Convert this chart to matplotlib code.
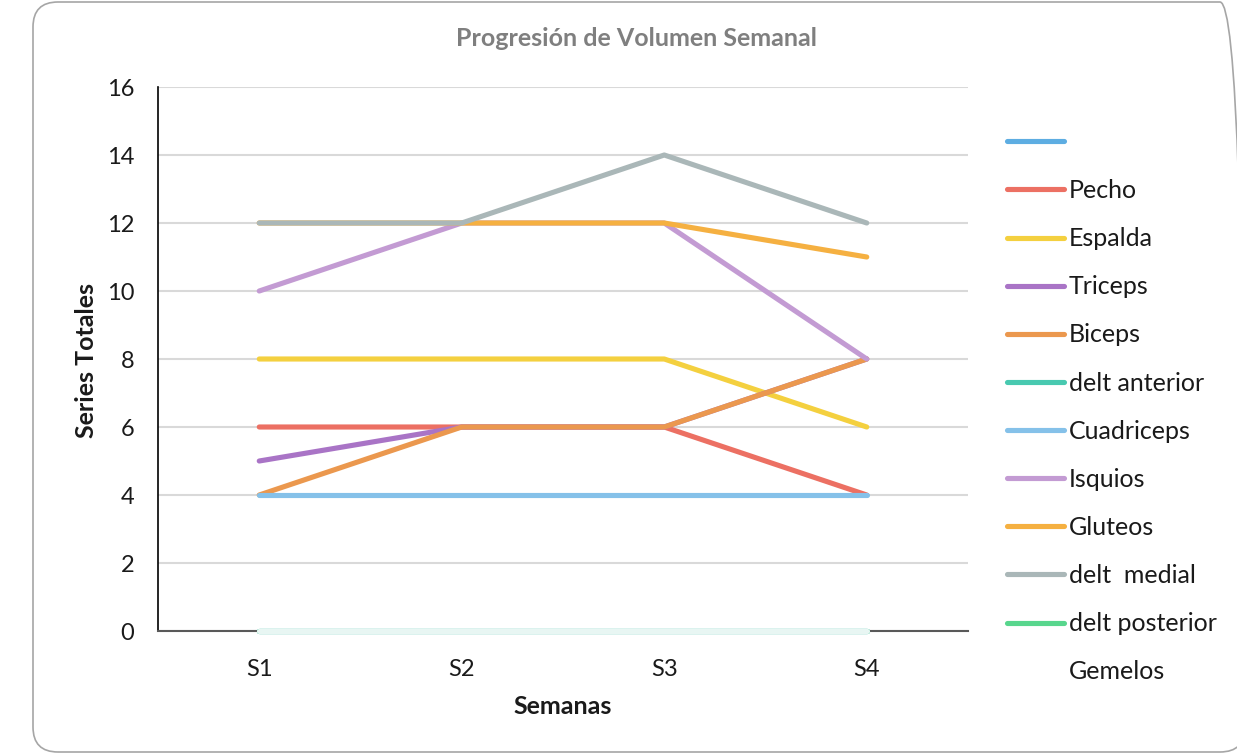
import matplotlib.pyplot as plt
from matplotlib.lines import Line2D
from matplotlib.patches import FancyBboxPatch
from matplotlib.transforms import IdentityTransform

plt.rcParams['font.family'] = ['Lato', 'DejaVu Sans']

# Weekly volume data
weeks = ['S1', 'S2', 'S3', 'S4']
series_names = ['', 'Pecho', 'Espalda', 'Triceps', 'Biceps', 'delt anterior',
                'Cuadriceps', 'Isquios', 'Gluteos', 'delt  medial',
                'delt posterior', 'Gemelos']
unnamed = [0, 0, 0, 0]
pecho = [6, 6, 6, 4]
espalda = [8, 8, 8, 6]
triceps = [5, 6, 6, 8]
biceps = [4, 6, 6, 8]
delt_anterior = [0, 0, 0, 0]
cuadriceps = [4, 4, 4, 4]
isquios = [10, 12, 12, 8]
gluteos = [12, 12, 12, 11]
delt_medial = [12, 12, 14, 12]
delt_posterior = [0, 0, 0, 0]
gemelos = [0, 0, 0, 0]
all_values = [unnamed, pecho, espalda, triceps, biceps, delt_anterior,
              cuadriceps, isquios, gluteos, delt_medial, delt_posterior, gemelos]
colors = ['#5DADE2', '#EC7063', '#F4D03F', '#A974C6', '#EB984E', '#48C9B0',
          '#85C1E9', '#C39BD3', '#F5B041', '#AAB7B8', '#58D68D', '#E8F6F3']

fig = plt.figure(figsize=(12.37, 7.53), dpi=100)

# rounded frame around the chart (pixel units)
frame = FancyBboxPatch((33, 1), 1212, 750,
                       boxstyle='round,pad=0,rounding_size=25',
                       transform=IdentityTransform(), facecolor='none',
                       edgecolor='#a6a6a6', linewidth=1.2, zorder=-1)
fig.patches.append(frame)

ax = fig.add_axes([158 / 1237, 1 - 631 / 753, 810 / 1237, 544 / 753])
ax.set_facecolor('none')

x = range(len(weeks))
lines = []
for i, (name, vals, c) in enumerate(zip(series_names, all_values, colors)):
    ln, = ax.plot(x, vals, color=c, linewidth=3.7, solid_capstyle='round',
                  solid_joinstyle='round', clip_on=False, zorder=3 + i)
    lines.append(ln)

ax.set_xlim(-0.5, 3.5)
ax.set_ylim(0, 16)
ax.set_yticks(range(0, 17, 2))
ax.set_xticks(list(x))
ax.set_xticklabels(weeks)
ax.tick_params(length=0, labelsize=17, colors='#1a1a1a')
ax.tick_params(axis='y', pad=17)
ax.tick_params(axis='x', pad=20)
ax.grid(axis='y', color='#d9d9d9', linewidth=1.5)
ax.set_axisbelow(True)
for s in ['top', 'right']:
    ax.spines[s].set_visible(False)
ax.spines['left'].set_color('#000000')
ax.spines['left'].set_linewidth(1.2)
ax.spines['bottom'].set_color('#595959')
ax.spines['bottom'].set_linewidth(1.5)

fig.text(637 / 1237, 1 - 38 / 753, 'Progresión de Volumen Semanal',
         ha='center', va='center', fontsize=18, fontweight='bold', color='#7f7f7f')
fig.text(87 / 1237, 1 - 360 / 753, 'Series Totales', rotation=90,
         ha='center', va='center', fontsize=18, fontweight='bold', color='#1a1a1a')
fig.text(563 / 1237, 1 - 706 / 753, 'Semanas',
         ha='center', va='center', fontsize=18, fontweight='bold', color='#1a1a1a')

# Gemelos shows no line in the legend
handles = lines[:-1] + [Line2D([], [], color='none')]
fig.legend(handles, series_names, loc='upper left',
           bbox_to_anchor=(1007 / 1237, 1 - 131 / 753), frameon=False,
           fontsize=18, handlelength=2.28, handletextpad=0.2,
           labelspacing=1.005, borderpad=0, borderaxespad=0,
           labelcolor='#1a1a1a')

fig.savefig('out.png', dpi=100)
